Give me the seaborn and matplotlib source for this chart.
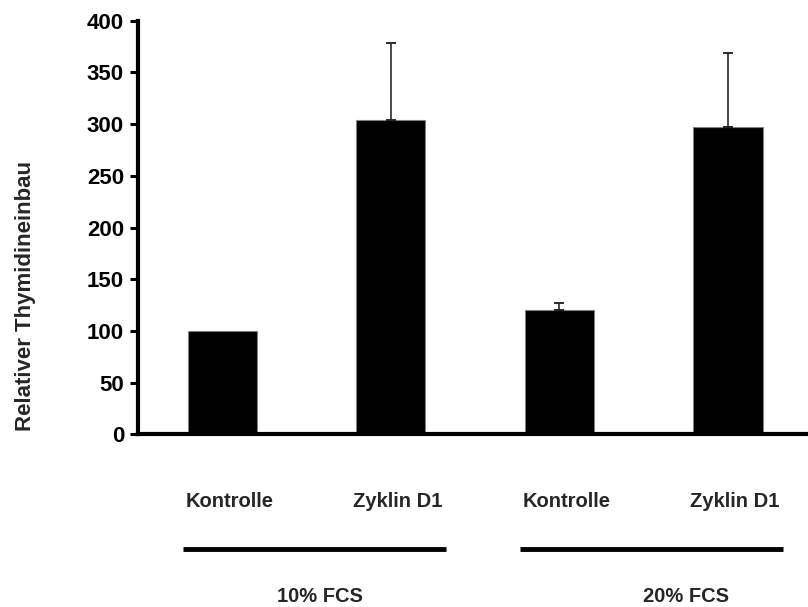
import numpy as np
import pandas as pd
import matplotlib
matplotlib.use("Agg")
import matplotlib.pyplot as plt
import matplotlib.transforms as mtransforms
import seaborn as sns

# Data
groups = ["10% FCS", "10% FCS", "20% FCS", "20% FCS"]
conditions = ["Kontrolle", "Zyklin D1", "Kontrolle", "Zyklin D1"]
values = [100, 304, 120, 297]
errors_up = [0, 74, 7, 72]
group_names = ["10% FCS", "20% FCS"]
yticks = [0, 50, 100, 150, 200, 250, 300, 350, 400]
ylabel = "Relativer Thymidineinbau"

sns.set_style("white")
plt.rcParams["font.family"] = ["Liberation Sans", "DejaVu Sans"]
plt.rcParams["font.weight"] = "bold"

df = pd.DataFrame({
    "key": [f"{g} {c}" for g, c in zip(groups, conditions)],
    "value": values,
})

fig = plt.figure(figsize=(8.08, 6.07), dpi=100)
ax = fig.add_axes([0.1702, 0.2845, 0.8298, 0.6814])

sns.barplot(data=df, x="key", y="value", color="black", width=0.41,
            edgecolor="#808080", linewidth=0.8, errorbar=None,
            saturation=1, ax=ax)

# upward-only error bars, skipping bars without spread
pos = np.arange(len(values))
vals = np.array(values, dtype=float)
errs = np.array(errors_up, dtype=float)
mask = errs > 0
ax.errorbar(pos[mask], vals[mask], yerr=[np.zeros(mask.sum()), errs[mask]],
            fmt="none", ecolor="#1a1a1a", elinewidth=1.1, capsize=3.4,
            capthick=1.3, zorder=3)

ax.set_xlim(-0.504, 3.475)
ax.set_ylim(0, 400)
ax.set_yticks(yticks)
ax.set_yticklabels([str(t) for t in yticks])
ax.set_xticks([])
ax.set_xlabel("")
ax.set_ylabel("")

for side in ("top", "right"):
    ax.spines[side].set_visible(False)
for side in ("left", "bottom"):
    ax.spines[side].set_linewidth(3)
    ax.spines[side].set_color("black")

ax.tick_params(axis="y", left=True, length=5.7, width=2.2, pad=4,
               labelsize=16, direction="out", colors="black")
for lab in ax.get_yticklabels():
    lab.set_fontweight("bold")

# labels under the axis: conditions, group bars, group names
trans = mtransforms.blended_transform_factory(ax.transData, fig.transFigure)
for i, c in enumerate(conditions):
    ax.text(i + 0.04, 0.1746, c, transform=trans, ha="center", va="center",
            fontsize=14.5, fontweight="bold", clip_on=False)

group_label_shift = [0.08, 0.25]
for j, g in enumerate(group_names):
    center = 2 * j + 0.5
    ax.plot([center + 0.046 - 0.783, center + 0.046 + 0.783], [0.0956, 0.0956],
            transform=trans, color="black", lw=3.5, solid_capstyle="butt",
            clip_on=False)
    ax.text(center + group_label_shift[j], 0.0181, g, transform=trans,
            ha="center", va="center", fontsize=14.5, fontweight="bold",
            clip_on=False)

fig.text(0.031, 0.512, ylabel, rotation=90, ha="center", va="center",
         fontsize=16, fontweight="bold")

fig.savefig("out.png", dpi=100)
